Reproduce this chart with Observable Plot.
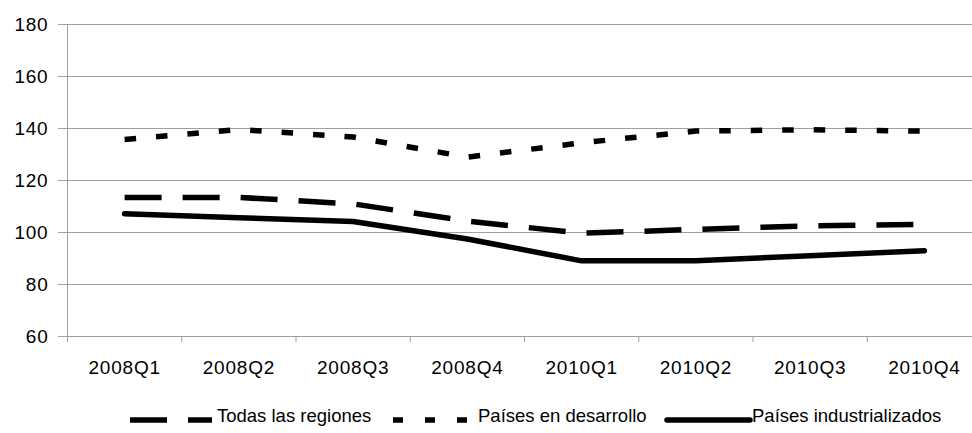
<!DOCTYPE html>
<html>
<head>
<meta charset="utf-8">
<script src="https://cdn.jsdelivr.net/npm/d3@7"></script>
<script src="https://cdn.jsdelivr.net/npm/@observablehq/plot@0.6"></script>
<style>
  html, body { margin: 0; padding: 0; background: white; overflow: hidden; }
  #wrap { position: relative; width: 972px; height: 433px; font-family: "Liberation Sans", Arial, sans-serif; }
  #legend { position: absolute; left: 0; top: 400px; }
</style>
</head>
<body>
<div id="wrap"></div>
<script>
const quarters = ["2008Q1","2008Q2","2008Q3","2008Q4","2010Q1","2010Q2","2010Q3","2010Q4"];
const todas = [113.5, 113.5, 111.0, 104.4, 99.7, 101.2, 102.6, 103.1];
const desarrollo = [135.8, 139.6, 136.7, 129.0, 134.5, 139.0, 139.5, 139.0];
const industrializados = [107.2, 105.7, 104.2, 97.5, 89.1, 89.1, 91.1, 93.0];
const yTicks = [60, 80, 100, 120, 140, 160, 180];
const seriesNames = ["Todas las regiones", "Países en desarrollo", "Países industrializados"];

const GRAY = "#a0a0a0";
const toRows = (vals) => vals.map((v, i) => ({i, v}));

const chart = Plot.plot({
  width: 972,
  height: 400,
  marginLeft: 67,
  marginRight: 0,
  marginTop: 24,
  marginBottom: 64,
  x: {domain: [-0.5, 7.5], range: [67, 981]},
  y: {domain: [60, 180], range: [336, 24]},
  style: {
    fontFamily: "'Liberation Sans', Arial, sans-serif",
    fontSize: "19px",
    letterSpacing: "0.8px",
    color: "black",
    background: "white",
    overflow: "hidden"
  },
  marks: [
    Plot.ruleY(yTicks.filter(d => d > 60), {x1: -0.5, x2: 7.5, stroke: GRAY, strokeWidth: 1}),
    Plot.ruleY([60], {x1: -0.5, x2: 7.5, stroke: GRAY, strokeWidth: 1}),
    Plot.ruleX([-0.5], {y1: 60, y2: 180, stroke: GRAY, strokeWidth: 1}),
    Plot.axisY({ticks: yTicks, tickSize: 9, tickPadding: 10, stroke: GRAY, label: null, tickFormat: d => String(d)}),
    Plot.axisX({ticks: d3.range(-0.5, 8, 1), tickSize: 6, tickPadding: 0, stroke: GRAY, label: null, tickFormat: () => ""}),
    Plot.axisX({ticks: d3.range(0, 8), tickSize: 0, tickPadding: 24, label: null, tickFormat: i => quarters[i]}),
    Plot.line(toRows(todas), {x: "i", y: "v", stroke: "black", strokeWidth: 5.5, strokeDasharray: "37,21", strokeLinecap: "butt", strokeLinejoin: "round"}),
    Plot.line(toRows(desarrollo), {x: "i", y: "v", stroke: "black", strokeWidth: 5.5, strokeDasharray: "11.5,20", strokeLinecap: "butt", strokeLinejoin: "round"}),
    Plot.line(toRows(industrializados), {x: "i", y: "v", stroke: "black", strokeWidth: 5.5, strokeLinecap: "round", strokeLinejoin: "round"})
  ]
});

const wrap = document.getElementById("wrap");
wrap.appendChild(chart);

// Legend
const items = [
  {name: seriesNames[0], x1: 130, x2: 212, dash: "37,21", cap: "butt", tx: 217},
  {name: seriesNames[1], x1: 393, x2: 475, dash: "10,22", cap: "butt", tx: 478},
  {name: seriesNames[2], x1: 667, x2: 750, dash: null, cap: "round", tx: 752}
];
const ns = "http://www.w3.org/2000/svg";
const leg = document.createElementNS(ns, "svg");
leg.setAttribute("id", "legend");
leg.setAttribute("width", 972);
leg.setAttribute("height", 33);
leg.setAttribute("font-family", "'Liberation Sans', Arial, sans-serif");
leg.setAttribute("font-size", "18.5");
for (const it of items) {
  const ln = document.createElementNS(ns, "line");
  ln.setAttribute("x1", it.x1); ln.setAttribute("x2", it.x2);
  ln.setAttribute("y1", 20); ln.setAttribute("y2", 20);
  ln.setAttribute("stroke", "black");
  ln.setAttribute("stroke-width", 5.5);
  ln.setAttribute("stroke-linecap", it.cap);
  if (it.dash) ln.setAttribute("stroke-dasharray", it.dash);
  leg.appendChild(ln);
  const t = document.createElementNS(ns, "text");
  t.setAttribute("x", it.tx); t.setAttribute("y", 22);
  t.setAttribute("fill", "black");
  t.textContent = it.name;
  leg.appendChild(t);
}
wrap.appendChild(leg);
</script>
</body>
</html>
